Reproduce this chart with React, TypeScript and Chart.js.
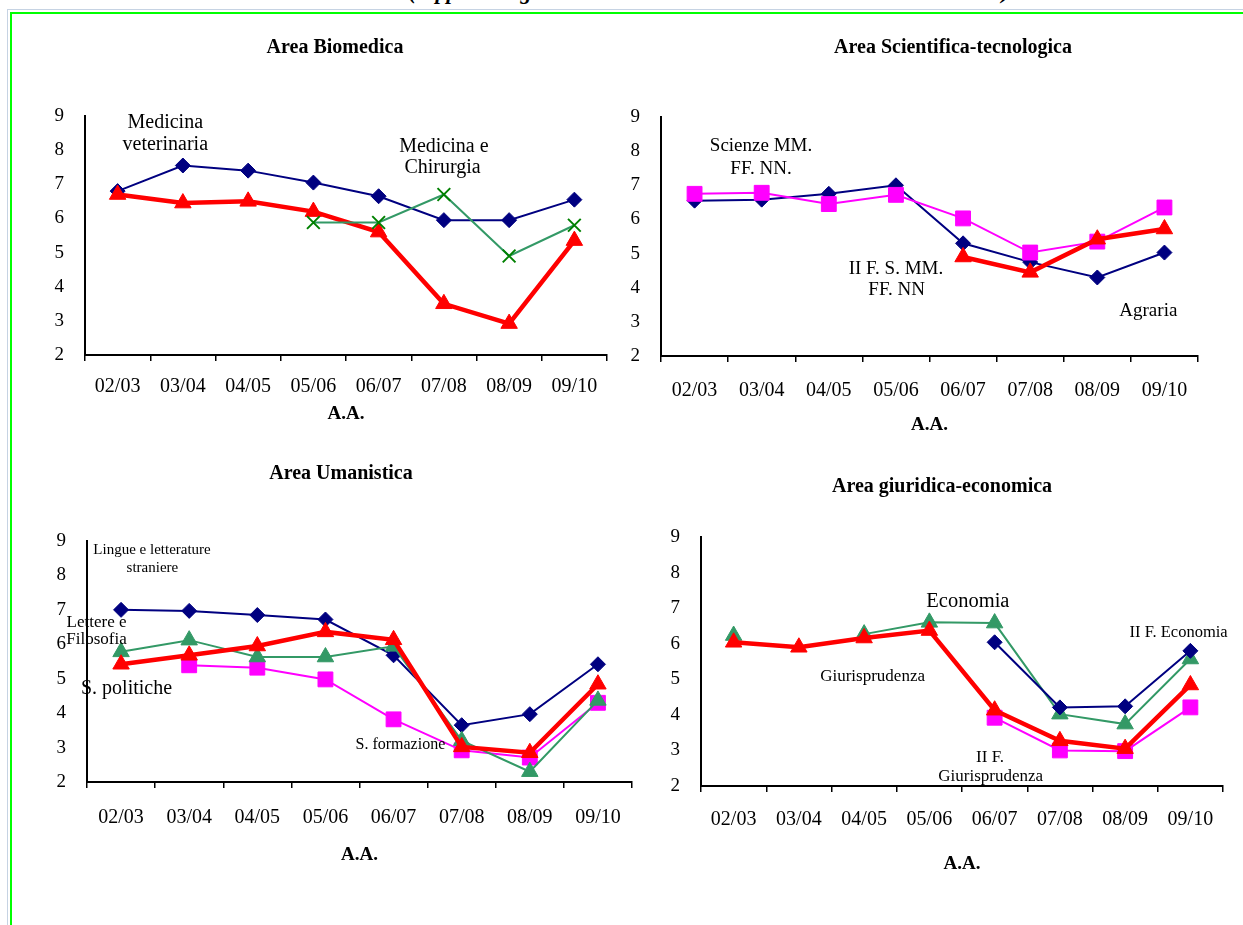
import React, { useEffect, useRef } from "react";
import { Chart, registerables } from "chart.js";

Chart.register(...registerables);

const FONT = '"Liberation Serif", "Times New Roman", Times, serif';

// ---------- shared ----------
const years = ["02/03", "03/04", "04/05", "05/06", "06/07", "07/08", "08/09", "09/10"];
const yMin = 2;
const yMax = 9;
const xAxisTitle = "A.A.";
const headerText =
  "Tasso di abbandono I anno 2002/03-2009/10 (rapporto degli studenti in atto del totale iscritti al I anno di corso)";

// ---------- Area Biomedica ----------
const bioTitle = "Area Biomedica";
const bioMedVet = [6.8, 7.55, 7.4, 7.05, 6.65, 5.95, 5.95, 6.55];
const bioArea = [6.7, 6.45, 6.5, 6.2, 5.6, 3.5, 2.92, 5.35];
const bioMedChir = [null, null, null, 5.88, 5.88, 6.7, 4.9, 5.8];
const bioNotes = [
  { text: "Medicina", x: 0.73, y: 8.8, size: 20 },
  { text: "veterinaria", x: 0.73, y: 8.17, size: 20 },
  { text: "Medicina e", x: 5.0, y: 8.1, size: 20 },
  { text: "Chirurgia", x: 4.98, y: 7.48, size: 20 },
];

// ---------- Area Scientifica-tecnologica ----------
const sciTitle = "Area Scientifica-tecnologica";
const sciAgraria = [6.55, 6.58, 6.75, 7.0, 5.3, 4.75, 4.3, 5.03];
const sciSMFN = [6.75, 6.78, 6.45, 6.72, 6.03, 5.03, 5.35, 6.35];
const sciIISMFN = [null, null, null, null, 4.9, 4.45, 5.42, 5.72];
const sciNotes = [
  { text: "Scienze MM.", x: 0.99, y: 8.16, size: 19 },
  { text: "FF. NN.", x: 0.99, y: 7.48, size: 19 },
  { text: "II F. S. MM.", x: 3.0, y: 4.54, size: 19 },
  { text: "FF. NN", x: 3.01, y: 3.94, size: 19 },
  { text: "Agraria", x: 6.76, y: 3.31, size: 19 },
];

// ---------- Area Umanistica ----------
const umaTitle = "Area Umanistica";
const umaLingue = [7.0, 6.97, 6.85, 6.72, 5.68, 3.65, 3.97, 5.42];
const umaLettere = [5.78, 6.12, 5.63, 5.63, 5.94, 3.2, 2.3, 4.37];
const umaPolitiche = [5.42, 5.68, 5.95, 6.36, 6.13, 3.02, 2.85, 4.84];
const umaFormazione = [null, 5.39, 5.32, 4.98, 3.82, 2.92, 2.71, 4.3];
const umaNotes = [
  { text: "Lingue e letterature", x: 0.455, y: 8.73, size: 15 },
  { text: "straniere", x: 0.46, y: 8.22, size: 15 },
  { text: "Lettere e", x: -0.36, y: 6.63, size: 17 },
  { text: "Filosofia", x: -0.36, y: 6.14, size: 17 },
  { text: "S. politiche", x: 0.08, y: 4.71, size: 20 },
  { text: "S. formazione", x: 4.1, y: 3.09, size: 16 },
];

// ---------- Area giuridica-economica ----------
const giuTitle = "Area giuridica-economica";
const giuGiuris = [6.04, 5.9, 6.16, 6.37, 4.13, 3.27, 3.05, 4.84];
const giuEconomia = [6.23, null, 6.27, 6.6, 6.58, 4.02, 3.74, 5.57];
const giuIIEconomia = [null, null, null, null, 6.04, 4.21, 4.24, 5.8];
const giuIIGiuris = [null, null, null, null, 3.92, 3.0, 2.98, 4.21];
const giuNotes = [
  { text: "Economia", x: 3.59, y: 7.17, size: 20.5 },
  { text: "Giurisprudenza", x: 2.13, y: 5.07, size: 17 },
  { text: "II F.", x: 3.93, y: 2.8, size: 17 },
  { text: "Giurisprudenza", x: 3.94, y: 2.28, size: 17 },
  { text: "II F. Economia", x: 6.82, y: 6.3, size: 16.5 },
];

// ---------- styles ----------
const navyStyle = {
  borderColor: "#000080",
  backgroundColor: "#000080",
  borderWidth: 2,
  pointStyle: "rectRot",
  pointRadius: 7.5,
  pointBorderWidth: 1,
};
const redStyle = {
  borderColor: "#FF0000",
  backgroundColor: "#FF0000",
  borderWidth: 4.5,
  pointStyle: "triangle",
  pointRadius: 9.5,
  pointBorderWidth: 1,
};
const greenTriStyle = {
  borderColor: "#339966",
  backgroundColor: "#339966",
  borderWidth: 2,
  pointStyle: "triangle",
  pointRadius: 9.5,
  pointBorderWidth: 1,
};
const greenCrossStyle = {
  borderColor: "#339966",
  backgroundColor: "#008000",
  borderWidth: 2,
  pointStyle: "crossRot",
  pointRadius: 9,
  pointBorderColor: "#008000",
  pointBorderWidth: 2,
};
const magentaStyle = {
  borderColor: "#FF00FF",
  backgroundColor: "#FF00FF",
  borderWidth: 2,
  pointStyle: "rect",
  pointRadius: 10.5,
  pointBorderWidth: 1,
};

type Note = { text: string; x: number; y: number; size: number };
type Series = { label: string; data: (number | null)[]; style: any };
type Geo = {
  left: number; top: number; width: number; height: number;
  yWidth: number; rightWidth: number; titlePad: number; tickPad: number; xHeight: number;
};

const panels: { title: string; series: Series[]; notes: Note[]; geo: Geo }[] = [
  {
    title: bioTitle,
    series: [
      { label: "Medicina e Chirurgia", data: bioMedChir, style: greenCrossStyle },
      { label: "Area Biomedica", data: bioArea, style: redStyle },
      { label: "Medicina veterinaria", data: bioMedVet, style: navyStyle },
    ],
    notes: bioNotes,
    geo: { left: 10, top: 36, width: 650, height: 389, yWidth: 75, rightWidth: 53, titlePad: 56, tickPad: 14, xHeight: 70 },
  },
  {
    title: sciTitle,
    series: [
      { label: "II F. S. MM. FF. NN", data: sciIISMFN, style: redStyle },
      { label: "Scienze MM. FF. NN.", data: sciSMFN, style: magentaStyle },
      { label: "Agraria", data: sciAgraria, style: navyStyle },
    ],
    notes: sciNotes,
    geo: { left: 615, top: 36, width: 676, height: 400, yWidth: 46, rightWidth: 93, titlePad: 57, tickPad: 17, xHeight: 80 },
  },
  {
    title: umaTitle,
    series: [
      { label: "S. politiche", data: umaPolitiche, style: redStyle },
      { label: "Lettere e Filosofia", data: umaLettere, style: greenTriStyle },
      { label: "S. formazione", data: umaFormazione, style: magentaStyle },
      { label: "Lingue e letterature straniere", data: umaLingue, style: navyStyle },
    ],
    notes: umaNotes,
    geo: { left: 10, top: 462, width: 662, height: 404, yWidth: 77, rightWidth: 40, titlePad: 55, tickPad: 18, xHeight: 84 },
  },
  {
    title: giuTitle,
    series: [
      { label: "Giurisprudenza", data: giuGiuris, style: redStyle },
      { label: "II F. Economia", data: giuIIEconomia, style: navyStyle },
      { label: "Economia", data: giuEconomia, style: greenTriStyle },
      { label: "II F. Giurisprudenza", data: giuIIGiuris, style: magentaStyle },
    ],
    notes: giuNotes,
    geo: { left: 640, top: 475, width: 604, height: 400, yWidth: 61, rightWidth: 21, titlePad: 38, tickPad: 16, xHeight: 89 },
  },
];

function makeNotesPlugin(notes: Note[]) {
  return {
    id: "panelNotes",
    afterDatasetsDraw(chart: any) {
      const { ctx, scales } = chart;
      const xs = scales.x;
      const ys = scales.y;
      ctx.save();
      ctx.fillStyle = "#000";
      ctx.textAlign = "center";
      ctx.textBaseline = "middle";
      for (const n of notes) {
        ctx.font = `${n.size}px ${FONT}`;
        ctx.fillText(n.text, xs.getPixelForValue(n.x), ys.getPixelForValue(n.y));
      }
      ctx.restore();
    },
  };
}

function Panel({ title, series, notes, geo }: { title: string; series: Series[]; notes: Note[]; geo: Geo }) {
  const ref = useRef<HTMLCanvasElement | null>(null);
  useEffect(() => {
    if (!ref.current) return;
    const chart = new Chart(ref.current, {
      type: "line",
      data: {
        labels: years,
        datasets: series.map((s) => ({
          label: s.label,
          data: s.data,
          tension: 0,
          spanGaps: false,
          fill: false,
          yAxisID: "y",
          ...s.style,
        })),
      },
      options: {
        responsive: false,
        animation: false,
        devicePixelRatio: 1,
        layout: { padding: 0 },
        plugins: {
          legend: { display: false },
          tooltip: { enabled: false },
          title: {
            display: true,
            text: title,
            color: "#000",
            font: { family: FONT, size: 20, weight: "bold" },
            padding: { top: 0, bottom: geo.titlePad },
          },
        },
        scales: {
          x: {
            type: "category",
            offset: true,
            grid: {
              display: true,
              offset: true,
              drawOnChartArea: false,
              drawTicks: true,
              tickLength: 6,
              color: "#000",
              tickColor: "#000",
              lineWidth: 1.5,
            },
            border: { display: true, color: "#000", width: 2 },
            ticks: {
              color: "#000",
              font: { family: FONT, size: 20 },
              padding: geo.tickPad,
              maxRotation: 0,
              autoSkip: false,
            },
            title: {
              display: true,
              text: xAxisTitle,
              color: "#000",
              font: { family: FONT, size: 19, weight: "bold" },
              padding: 0,
            },
            afterFit: (scale: any) => {
              scale.height = geo.xHeight;
            },
          },
          y: {
            min: yMin,
            max: yMax,
            position: "left",
            grid: { display: true, drawOnChartArea: false, drawTicks: false },
            border: { display: true, color: "#000", width: 2 },
            ticks: {
              stepSize: 1,
              color: "#000",
              font: { family: FONT, size: 19 },
              padding: 21,
            },
            afterFit: (scale: any) => {
              scale.width = geo.yWidth;
            },
          },
          // empty right-hand spacer so that the title centres like the original chart object
          spacer: {
            type: "linear",
            position: "right",
            display: true,
            grid: { display: false },
            border: { display: false },
            ticks: { display: false },
            afterFit: (scale: any) => {
              scale.width = geo.rightWidth;
            },
          },
        },
      },
      plugins: [makeNotesPlugin(notes)],
    } as any);
    return () => chart.destroy();
  }, []);
  return (
    <canvas
      ref={ref}
      width={geo.width}
      height={geo.height}
      style={{ position: "absolute", left: geo.left, top: geo.top, width: geo.width, height: geo.height }}
    />
  );
}

export default function App() {
  return (
    <div
      style={{
        position: "absolute",
        left: 0,
        top: 0,
        width: 1243,
        height: 925,
        overflow: "hidden",
        background: "#fff",
      }}
    >
      <div
        style={{
          position: "absolute",
          left: 0,
          top: -21,
          whiteSpace: "nowrap",
          font: `italic bold 22px ${FONT}`,
          color: "#000",
        }}
      >
        {headerText}
      </div>
      <div
        style={{
          position: "absolute",
          left: 7,
          top: 9,
          width: 2000,
          height: 2000,
          borderLeft: "1px solid #c6d3e3",
          borderTop: "1px solid #c6d3e3",
        }}
      />
      <div
        style={{
          position: "absolute",
          left: 10,
          top: 12,
          width: 2000,
          height: 2000,
          borderLeft: "2px solid #00ff00",
          borderTop: "2px solid #00ff00",
        }}
      />
      {panels.map((p, i) => (
        <Panel key={i} title={p.title} series={p.series} notes={p.notes} geo={p.geo} />
      ))}
    </div>
  );
}
